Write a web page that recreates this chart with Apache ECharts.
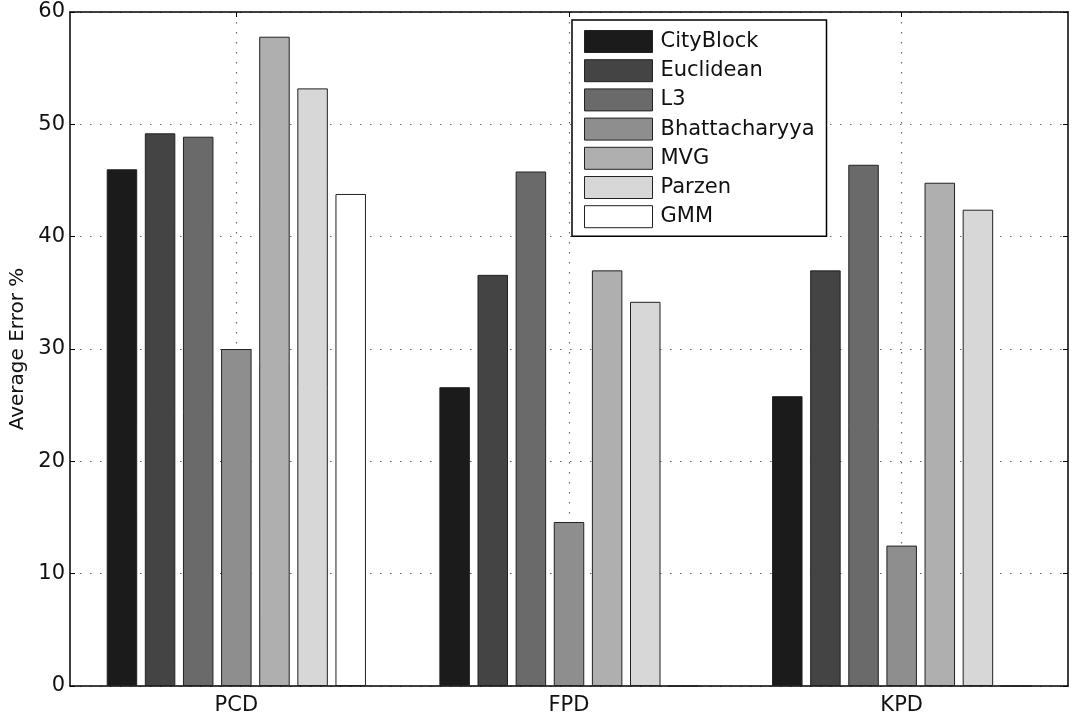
<!DOCTYPE html>
<html>
<head>
<meta charset="utf-8">
<script src="https://cdn.jsdelivr.net/npm/echarts@6/dist/echarts.min.js"></script>
<style>html,body{margin:0;padding:0;background:#fff;}#c{width:1076px;height:723px;}</style>
</head>
<body>
<div id="c"></div>
<script>
const categories = ['PCD', 'FPD', 'KPD'];
const seriesNames = ['CityBlock', 'Euclidean', 'L3', 'Bhattacharyya', 'MVG', 'Parzen', 'GMM'];
const cityBlock = [46.0, 26.6, 25.8];
const euclidean = [49.2, 36.6, 37.0];
const l3 = [48.9, 45.8, 46.4];
const bhattacharyya = [30.0, 14.6, 12.5];
const mvg = [57.8, 37.0, 44.8];
const parzen = [53.2, 34.2, 42.4];
const gmm = [43.8, 0, 0];
const yTicks = [0, 10, 20, 30, 40, 50, 60];

const values = [cityBlock, euclidean, l3, bhattacharyya, mvg, parzen, gmm];
const colors = ['#1b1b1b', '#444444', '#6a6a6a', '#8e8e8e', '#afafaf', '#d7d7d7', '#ffffff'];
const font = 'DejaVu Sans';
const dotted = { color: '#666', width: 1.2, type: [1.5, 8.5] };

const chart = echarts.init(document.getElementById('c'), null, { renderer: 'canvas' });
chart.setOption({
  animation: false,
  backgroundColor: '#fff',
  textStyle: { fontFamily: font },
  grid: { left: 70, right: 8, top: 12, bottom: 37, containLabel: false, outerBoundsMode: 'none' },
  legend: {
    data: seriesNames.map(n => ({ name: n, icon: 'rect' })),
    orient: 'vertical',
    left: 572, top: 20,
    width: 259,
    padding: [10, 12, 8, 12],
    itemWidth: 68, itemHeight: 22, itemGap: 6.2,
    borderColor: '#000', borderWidth: 1.5,
    backgroundColor: '#fff',
    textStyle: { fontFamily: font, fontSize: 21, color: '#111', padding: [0, 0, 0, 3] },
    itemStyle: { borderColor: '#222', borderWidth: 1 }
  },
  xAxis: [
    {
      type: 'category', data: categories, position: 'bottom',
      axisLine: { show: true, onZero: false, lineStyle: { color: '#000', width: 1.5 } },
      axisTick: { show: true, inside: true, alignWithLabel: true, length: 5, lineStyle: { color: '#000' } },
      axisLabel: { fontFamily: font, fontSize: 21, color: '#111', margin: 9 },
      splitLine: { show: true, alignWithLabel: true, lineStyle: dotted }
    },
    {
      type: 'category', data: categories, position: 'top',
      axisLine: { show: true, onZero: false, lineStyle: { color: '#000', width: 1.5 } },
      axisTick: { show: true, inside: true, alignWithLabel: true, length: 5, lineStyle: { color: '#000' } },
      axisLabel: { show: false },
      splitLine: { show: false }
    }
  ],
  yAxis: [
    {
      type: 'value', min: 0, max: 60, interval: 10, position: 'left',
      name: 'Average Error %', nameLocation: 'middle', nameGap: 41,
      nameTextStyle: { fontFamily: font, fontSize: 20, color: '#111' },
      axisLine: { show: true, onZero: false, lineStyle: { color: '#000', width: 1.5 } },
      axisTick: { show: true, inside: true, length: 5, lineStyle: { color: '#000' } },
      axisLabel: { fontFamily: font, fontSize: 21, color: '#111', margin: 5,
        formatter: v => yTicks.includes(v) ? String(v) : '' },
      splitLine: { show: true, lineStyle: dotted }
    },
    {
      type: 'value', min: 0, max: 60, interval: 10, position: 'right',
      axisLine: { show: true, onZero: false, lineStyle: { color: '#000', width: 1.5 } },
      axisTick: { show: true, inside: true, length: 5, lineStyle: { color: '#000' } },
      axisLabel: { show: false },
      splitLine: { show: false }
    }
  ],
  series: seriesNames.map((n, i) => ({
    name: n, type: 'bar', xAxisIndex: 0, yAxisIndex: 0,
    data: values[i],
    barWidth: 30.5, barGap: '25%',
    itemStyle: { color: colors[i], borderColor: '#222', borderWidth: 1 }
  }))
});
</script>
</body>
</html>
